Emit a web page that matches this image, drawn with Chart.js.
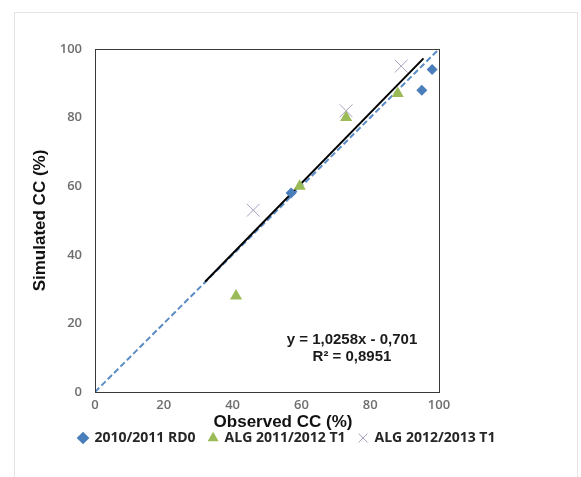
<!DOCTYPE html>
<html>
<head>
<meta charset="utf-8">
<script src="https://cdn.jsdelivr.net/npm/chart.js@4.4.1/dist/chart.umd.min.js"></script>
<style>
  html, body { margin: 0; padding: 0; background: #fff; }
  canvas { display: block; }
</style>
</head>
<body>
<canvas id="myChart" width="581" height="477"></canvas>
<script>
// observed vs simulated canopy cover, three seasons
let rd0Observed = [57, 95, 98];
let rd0Simulated = [58, 88, 94];
let alg1112Observed = [41, 59.5, 73, 88];
let alg1112Simulated = [28, 60, 80, 87];
let alg1213Observed = [46, 73, 89];
let alg1213Simulated = [53, 82, 95];

let seriesNames = ['2010/2011 RD0', 'ALG 2011/2012 T1', 'ALG 2012/2013 T1'];
let axisTicks = [0, 20, 40, 60, 80, 100];

// regression line y = a*x + b, drawn over the observed range
let slope = 1.0258;
let intercept = -0.701;
let fitRange = [32, 95.5];
let fitText = ['y = 1,0258x - 0,701', 'R\u00b2 = 0,8951'];

function toPoints(xs, ys) {
  return xs.map((x, i) => ({ x: x, y: ys[i] }));
}

// light outer frame and the full box round the plot area
const frame = {
  id: 'frame',
  beforeDraw(chart) {
    const ctx = chart.ctx;
    ctx.save();
    ctx.fillStyle = '#fff';
    ctx.fillRect(0, 0, chart.width, chart.height);
    ctx.strokeStyle = '#e4e4e4';
    ctx.lineWidth = 1;
    ctx.strokeRect(14.5, 12.5, 563, 480);
    ctx.restore();
  },
  afterDraw(chart) {
    const ctx = chart.ctx;
    const a = chart.chartArea;
    ctx.save();
    ctx.strokeStyle = '#3a3a3a';
    ctx.lineWidth = 1;
    ctx.strokeRect(Math.round(a.left) + 0.5, Math.round(a.top) + 0.5,
      Math.round(a.right - a.left), Math.round(a.bottom - a.top));

    // equation text
    const xs = chart.scales.x, ys = chart.scales.y;
    ctx.fillStyle = '#1a1a1a';
    ctx.font = 'bold 15px "Liberation Sans", Arial, sans-serif';
    ctx.textAlign = 'center';
    ctx.textBaseline = 'middle';
    ctx.fillText(fitText[0], xs.getPixelForValue(74.7), ys.getPixelForValue(15.2));
    ctx.fillText(fitText[1], xs.getPixelForValue(74.7), ys.getPixelForValue(10.2));

    // x axis title
    ctx.font = 'bold 17px "Liberation Sans", Arial, sans-serif';
    ctx.fillStyle = '#111';
    ctx.fillText('Observed CC (%)', (a.left + a.right) / 2 + 16, a.bottom + 30);
    ctx.restore();
  }
};

const tickFont = { family: '"Open Sans", sans-serif', size: 13, weight: '600' };

const config = {
  type: 'scatter',
  data: {
    datasets: [
      {
        label: seriesNames[0],
        data: toPoints(rd0Observed, rd0Simulated),
        pointStyle: 'rectRot',
        pointRadius: 5.5,
        backgroundColor: '#4a7ebb',
        borderColor: '#4a7ebb',
        borderWidth: 0,
        order: 0
      },
      {
        label: seriesNames[1],
        data: toPoints(alg1112Observed, alg1112Simulated),
        pointStyle: 'triangle',
        pointRadius: 7,
        backgroundColor: '#9bbb59',
        borderColor: '#9bbb59',
        borderWidth: 0,
        order: 0
      },
      {
        label: seriesNames[2],
        data: toPoints(alg1213Observed, alg1213Simulated),
        pointStyle: 'crossRot',
        pointRadius: 9,
        backgroundColor: '#a9a2c2',
        borderColor: '#a9a2c2',
        borderWidth: 1,
        order: 0
      },
      {
        label: '1:1',
        type: 'line',
        data: [{ x: 0, y: 0 }, { x: 100, y: 100 }],
        borderColor: '#5b8cc6',
        borderWidth: 2,
        borderDash: [6, 3],
        pointRadius: 0,
        fill: false,
        order: 2
      },
      {
        label: 'fit',
        type: 'line',
        data: fitRange.map(x => ({ x: x, y: slope * x + intercept })),
        borderColor: '#000',
        borderWidth: 2,
        pointRadius: 0,
        fill: false,
        order: 1
      }
    ]
  },
  options: {
    responsive: false,
    animation: false,
    layout: { padding: { left: 0, right: 7, top: 49, bottom: 22 } },
    scales: {
      x: {
        type: 'linear',
        min: 0,
        max: 100,
        afterBuildTicks: s => { s.ticks = axisTicks.map(v => ({ value: v })); },
        afterFit: s => { s.height = 26; },
        grid: { display: false, drawTicks: false },
        border: { display: false },
        ticks: { color: '#6e6e6e', font: tickFont, padding: 5 }
      },
      y: {
        type: 'linear',
        min: 0,
        max: 100,
        afterBuildTicks: s => { s.ticks = axisTicks.map(v => ({ value: v })); },
        afterFit: s => { s.width = 95; },
        grid: { display: false, drawTicks: false },
        border: { display: false },
        ticks: { color: '#6e6e6e', font: tickFont, padding: 13 },
        title: {
          display: true,
          text: 'Simulated CC (%)',
          color: '#111',
          font: { family: '"Liberation Sans", Arial, sans-serif', size: 17, weight: 'bold' },
          padding: { top: 30, bottom: 0 }
        }
      },
      // empty space to the right of the plot
      spacer: {
        type: 'linear',
        position: 'right',
        display: true,
        afterFit: s => { s.width = 135; },
        grid: { display: false, drawTicks: false },
        border: { display: false },
        ticks: { display: false }
      }
    },
    plugins: {
      legend: {
        position: 'bottom',
        labels: {
          usePointStyle: true,
          boxWidth: 9,
          boxHeight: 9,
          padding: 13,
          color: '#262626',
          font: { family: '"Open Sans", sans-serif', size: 14, weight: 'bold' },
          filter: item => item.datasetIndex < 3
        }
      },
      tooltip: { enabled: false }
    }
  },
  plugins: [frame]
};

let myChart = new Chart(document.getElementById('myChart'), config);
</script>
</body>
</html>
